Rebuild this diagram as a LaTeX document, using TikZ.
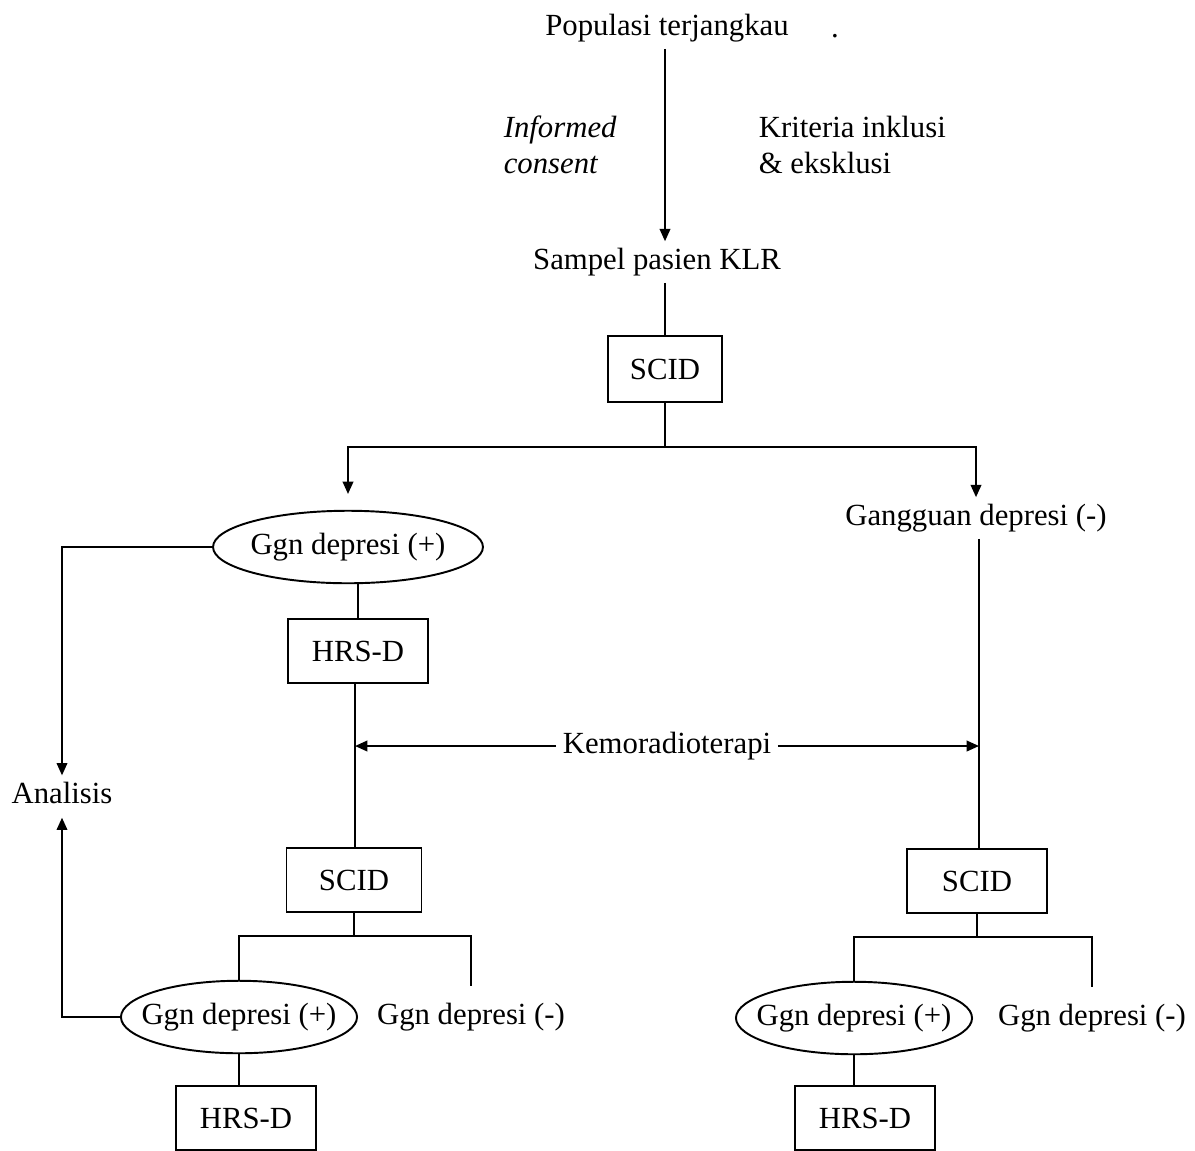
\documentclass[tikz,border=0pt]{standalone}
\usepackage{fontspec}
\setmainfont{Liberation Serif}
\usetikzlibrary{arrows.meta,shapes.geometric}
\begin{document}
\begin{tikzpicture}[x=0.02cm,y=-0.02cm,
        >={Triangle[length=7pt,width=6pt]},line width=1.1pt,
        every node/.style={font=\fontsize{17.5}{20.5}\selectfont},
        box/.style={draw,minimum width=2.8cm,minimum height=1.27cm,inner sep=2pt},
        oval/.style={draw,ellipse,minimum width=4.7cm,minimum height=1.45cm,
            inner xsep=-0.28cm,inner ysep=1pt}]
        \useasboundingbox (0,0) rectangle (1195,1150);

        % top part
        \node (pop) at (667,28) {Populasi terjangkau};
        \node[anchor=base] (dot) at (835,37) {.};
        \node[anchor=west,align=left] (consent) at (497,145)
            {\itshape Informed\\\itshape consent};
        \node[anchor=west,align=left] (krit) at (752,145)
            {Kriteria inklusi\\\& eksklusi};
        \node (sampel) at (657,262) {Sampel pasien KLR};
        \node[box,minimum width=2.28cm,minimum height=1.32cm] (scid0) at (665,369) {SCID};
        \draw[->] (pop.south -| scid0.north) -- (sampel.north -| scid0.north);
        \draw (sampel.south -| scid0.north) -- (scid0.north);

        \coordinate (br0) at (665,447);
        \draw (scid0.south) -- (br0);
        \node[oval,minimum width=5.4cm] (gpos1) at (348,547) {Ggn depresi (+)};
        \node (gneg1) at (976,518) {Gangguan depresi (-)};
        \draw[->,shorten >=9pt] (br0) -| (gpos1.north);
        \draw[->] (br0) -| (gneg1.north);

        % analisis
        \node (ana) at (62,793) {Analisis};
        \draw[->] (gpos1.west) -| (ana.north);

        % left branch
        \node[box] (hrs1) at (358,651) {HRS-D};
        \node[box,minimum width=2.7cm] (scid1) at (354,880) {SCID};
        \draw (hrs1.north |- gpos1.south) -- (hrs1.north);
        \coordinate (k1) at (355,746);
        \coordinate (k2) at (979,746);
        \draw (hrs1.south -| k1) -- (scid1.north -| k1);

        \node (kemo) at (667,746) {Kemoradioterapi};
        \draw[->] (kemo.west) -- (k1);
        \draw[->] (kemo.east) -- (k2);

        % right branch
        \node[box] (scid2) at (977,881) {SCID};
        \draw (gneg1.south -| k2) -- (scid2.north -| k2);

        % left bottom
        \coordinate (br1) at (354,936);
        \draw (scid1.south) -- (br1);
        \node[oval] (gpos2) at (239,1017) {Ggn depresi (+)};
        \node (gneg2) at (471,1017) {Ggn depresi (-)};
        \draw (br1) -| (gpos2.north);
        \draw[shorten >=6pt] (br1) -| (gneg2.north);
        \node[box] (hrs2) at (246,1118) {HRS-D};
        \draw (gpos2.south) -- (gpos2.south |- hrs2.north);
        \draw[->,shorten >=4pt] (gpos2.west) -| (ana.south);

        % right bottom
        \coordinate (br2) at (977,937);
        \draw (scid2.south) -- (br2);
        \node[oval] (gpos3) at (854,1018) {Ggn depresi (+)};
        \node (gneg3) at (1092,1018) {Ggn depresi (-)};
        \draw (br2) -| (gpos3.north);
        \draw[shorten >=6pt] (br2) -| (gneg3.north);
        \node[box] (hrs3) at (865,1118) {HRS-D};
        \draw (gpos3.south) -- (gpos3.south |- hrs3.north);
    \end{tikzpicture}
\end{document}
